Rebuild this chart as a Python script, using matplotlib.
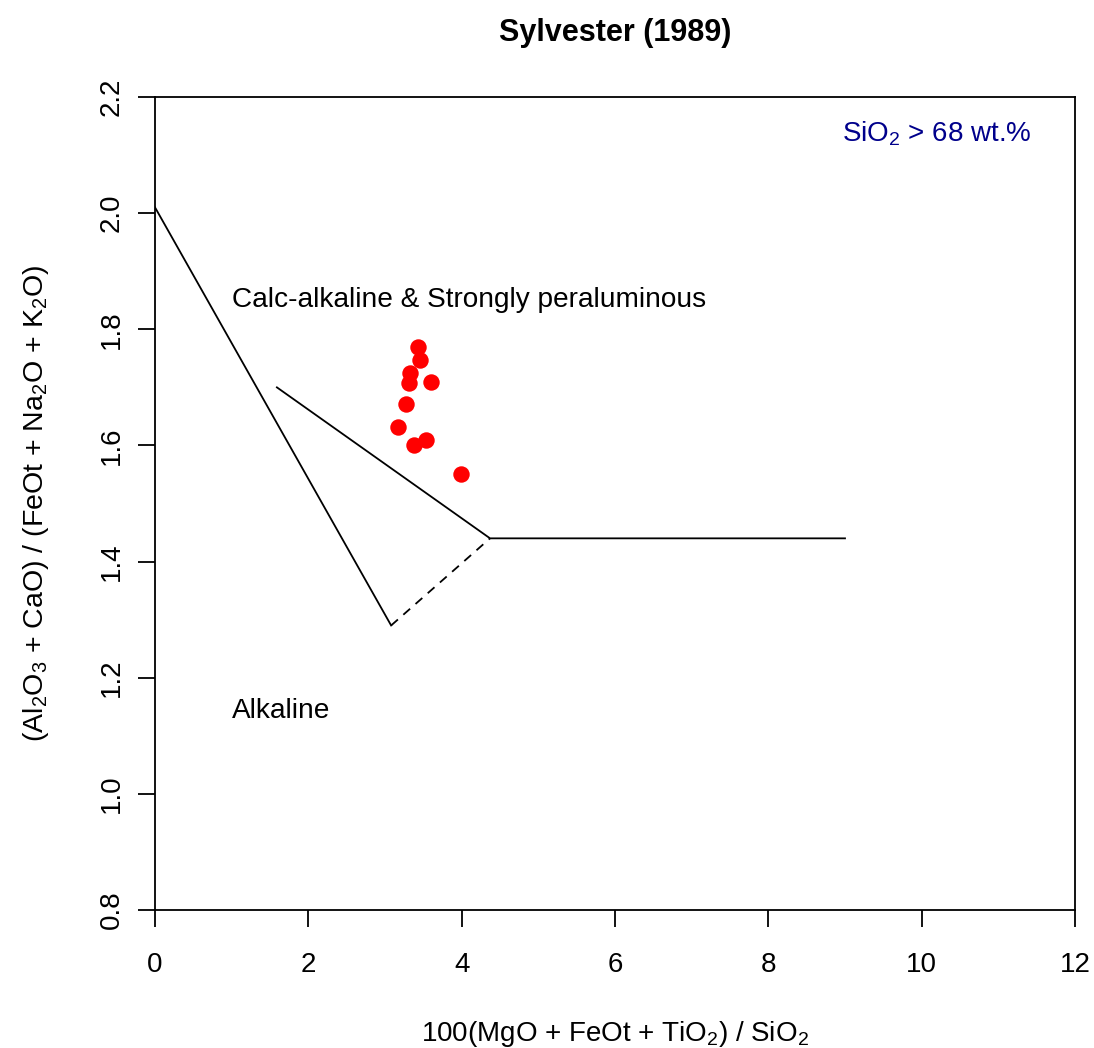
import matplotlib
matplotlib.use('Agg')
from matplotlib import pyplot as plt

plt.rcParams['font.family'] = ['Liberation Sans', 'DejaVu Sans']
plt.rcParams['mathtext.fontset'] = 'custom'
plt.rcParams['mathtext.rm'] = 'Liberation Sans'
plt.rcParams['mathtext.it'] = 'Liberation Sans:italic'
plt.rcParams['mathtext.bf'] = 'Liberation Sans:bold'

# sample data
x_vals = [3.43, 3.46, 3.33, 3.31, 3.60, 3.28, 3.17, 3.38, 3.54, 3.99]
y_vals = [1.770, 1.747, 1.724, 1.707, 1.710, 1.672, 1.631, 1.601, 1.609, 1.550]

# field boundaries
line1_x = [0.0, 3.08]
line1_y = [2.01, 1.29]
line2_x = [1.59, 4.37, 9.0]
line2_y = [1.70, 1.44, 1.44]
dash_x = [3.08, 4.37]
dash_y = [1.29, 1.44]

x_ticks = [0, 2, 4, 6, 8, 10, 12]
y_ticks = [0.8, 1.0, 1.2, 1.4, 1.6, 1.8, 2.0, 2.2]

fig = plt.figure(figsize=(10.94, 10.48), dpi=100)
ax = fig.add_axes([155 / 1094, 1 - 910 / 1048, 920 / 1094, 813 / 1048])

ax.plot(line1_x, line1_y, color='black', lw=1.3)
ax.plot(line2_x, line2_y, color='black', lw=1.3)
ax.plot(dash_x, dash_y, color='black', lw=1.3, ls=(0, (5, 4)))
ax.scatter(x_vals, y_vals, s=140, color='red', zorder=3, linewidths=0)

ax.set_xlim(0, 12)
ax.set_ylim(0.8, 2.2)
ax.set_xticks(x_ticks)
ax.set_xticklabels([str(t) for t in x_ticks])
ax.set_yticks(y_ticks)
ax.set_yticklabels([f'{t:.1f}' for t in y_ticks], rotation=90, va='center')
ax.tick_params(direction='out', length=12, width=1.3, labelsize=20, colors='black')
ax.tick_params(axis='x', pad=18)
ax.tick_params(axis='y', pad=10)
for sp in ax.spines.values():
    sp.set_linewidth(1.3)

ax.text(1.0, 1.85, 'Calc-alkaline & Strongly peraluminous', fontsize=20.2, va='center', ha='left')
ax.text(1.0, 1.143, 'Alkaline', fontsize=20.2, va='center', ha='left')
ax.text(0.953, 0.955, r'SiO$_2$ > 68 wt.%', fontsize=20, color='#00008B',
        transform=ax.transAxes, ha='right', va='center')

ax.set_title('Sylvester (1989)', fontsize=22, fontweight='bold', pad=40)
ax.set_xlabel(r'100(MgO + FeOt + TiO$_2$) / SiO$_2$', fontsize=20, labelpad=30)
ax.set_ylabel(r'(Al$_2$O$_3$ + CaO) / (FeOt + Na$_2$O + K$_2$O)', fontsize=20.5, labelpad=34)

fig.savefig('out.png', dpi=100)
